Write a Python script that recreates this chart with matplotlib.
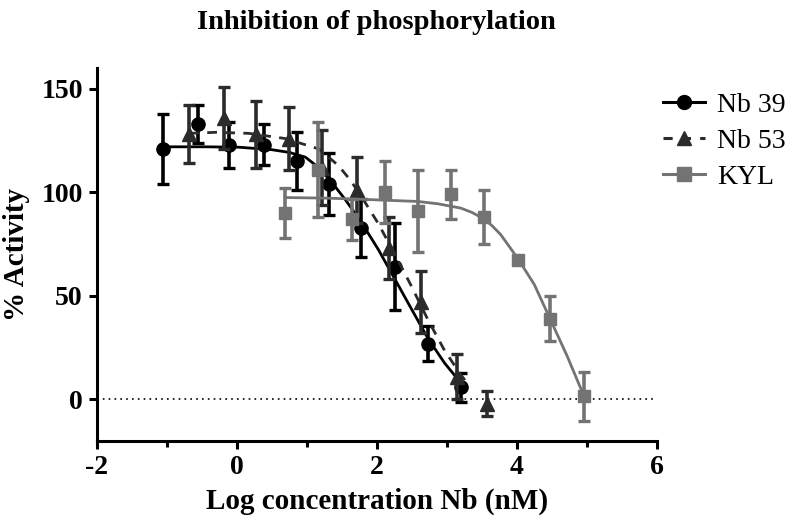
import matplotlib
matplotlib.use("Agg")
import matplotlib.pyplot as plt

plt.rcParams['font.family'] = ['Liberation Serif', 'DejaVu Serif']
plt.rcParams['axes.unicode_minus'] = False

# measured points (log nM, % activity, SEM)
nb39_x = [-1.06, -0.56, -0.11, 0.39, 0.86, 1.31, 1.78, 2.26, 2.73, 3.20]
nb39_y = [121, 133, 123, 123, 115, 104, 83, 64, 27, 6]
nb39_err = [17, 9, 11, 10, 14, 15, 14, 21, 8.5, 7]

nb53_x = [-0.68, -0.18, 0.27, 0.74, 1.22, 1.71, 2.18, 2.63, 3.14, 3.58]
nb53_y = [128, 136, 128, 126, 112, 101, 73, 47, 11, -2]
nb53_err = [14, 15, 16, 15, 18, 16, 15, 15, 11, 6]

kyl_x = [0.69, 1.16, 1.64, 2.11, 2.59, 3.06, 3.53, 4.01, 4.48, 4.96]
kyl_y = [90, 111, 87, 100, 91, 99, 88, 67.5, 39, 1.5]
kyl_err = [12, 23, 10, 15, 20, 12, 13, 0, 11, 12]

# fitted curves
nb39_fit_x = [-1.06, -0.44, 0.03, 0.50, 0.75, 0.98, 1.15, 1.33, 1.55, 1.78,
              2.02, 2.26, 2.49, 2.73, 2.97, 3.20]
nb39_fit_y = [122, 122, 121.8, 120.6, 119.3, 117, 112.5, 106, 96.5, 85.5,
              72.5, 58, 44, 29.5, 17.5, 8]

nb53_fit_x = [-0.68, -0.30, 0.17, 0.69, 1.17, 1.45, 1.62, 1.78, 2.02, 2.26,
              2.49, 2.73, 2.97, 3.20, 3.32]
nb53_fit_y = [128.5, 129, 128.5, 126, 121, 113, 106, 98, 85, 70,
              55, 38.5, 23.5, 12, 6.5]

kyl_fit_x = [0.69, 1.31, 1.90, 2.59, 2.87, 3.20, 3.36, 3.53, 3.65, 3.77,
             4.01, 4.25, 4.48, 4.72, 4.96]
kyl_fit_y = [97.5, 97.2, 96.5, 95.6, 94.5, 92.4, 90.3, 87.2, 83.8, 79.6,
             68.3, 55.5, 38.6, 20.9, 1.6]

c39 = '#000000'
c53 = '#2b2b2b'
ckyl = '#737373'

fig = plt.figure(figsize=(8, 5.28), dpi=100)
ax = fig.add_axes([0.121, 0.165, 0.70, 0.706])

ax.axhline(0, color='black', lw=1.2, ls=(0, (1, 2.5)), zorder=1)

eb = dict(fmt='none', elinewidth=2.6, capsize=4.6, capthick=2.4)

ax.errorbar(nb39_x, nb39_y, yerr=nb39_err, ecolor=c39, zorder=2, **eb)
ax.plot(nb39_fit_x, nb39_fit_y, color=c39, lw=2, zorder=2)
ax.plot(nb39_x, nb39_y, 'o', color=c39, ms=9.5, zorder=3)

ax.errorbar(nb53_x, nb53_y, yerr=nb53_err, ecolor=c53, zorder=4, **eb)
ax.plot(nb53_fit_x, nb53_fit_y, color=c53, lw=2, ls=(0, (3.5, 3)), zorder=4)
ax.plot(nb53_x, nb53_y, '^', color=c53, ms=9.5, zorder=5)

ax.errorbar(kyl_x, kyl_y, yerr=kyl_err, ecolor=ckyl, zorder=6, **eb)
ax.plot(kyl_fit_x, kyl_fit_y, color=ckyl, lw=2, zorder=6)
ax.plot(kyl_x, kyl_y, 's', color=ckyl, ms=9, zorder=7)

# legend handles
h39, = ax.plot([], [], '-o', color=c39, lw=2.2, ms=10)
h53, = ax.plot([], [], '^', ls=(0, (3, 3)), color=c53, lw=2.2, ms=10)
hkyl, = ax.plot([], [], '-s', color=ckyl, lw=2.2, ms=10)
ax.legend([h39, h53, hkyl], ['Nb 39', 'Nb 53', 'KYL'], frameon=False,
          loc='upper left', bbox_to_anchor=(1.011, 0.934), fontsize=20,
          borderaxespad=0, borderpad=0,
          handlelength=1.5, handletextpad=0.45, labelspacing=0.37)

ax.set_xlim(-2, 6)
ax.set_ylim(-20, 160)
ax.set_xticks([-2, 0, 2, 4, 6])
ax.set_xticks([-1, 1, 3, 5], minor=True)
ax.set_yticks([0, 50, 100, 150])

for s in ['top', 'right']:
    ax.spines[s].set_visible(False)
for s in ['left', 'bottom']:
    ax.spines[s].set_linewidth(2.2)

ax.tick_params(which='major', length=6, width=2.2, labelsize=20, pad=4)
ax.tick_params(which='minor', length=4, width=2.2)
for lab in ax.get_xticklabels() + ax.get_yticklabels():
    lab.set_fontweight('bold')

ax.set_xlabel('Log concentration Nb (nM)', fontsize=21, fontweight='bold', labelpad=6)
ax.set_ylabel('% Activity', fontsize=21, fontweight='bold', labelpad=8)
ax.set_title('Inhibition of phosphorylation', fontsize=20.5, fontweight='bold', pad=28)

fig.savefig('out.png', dpi=100)
